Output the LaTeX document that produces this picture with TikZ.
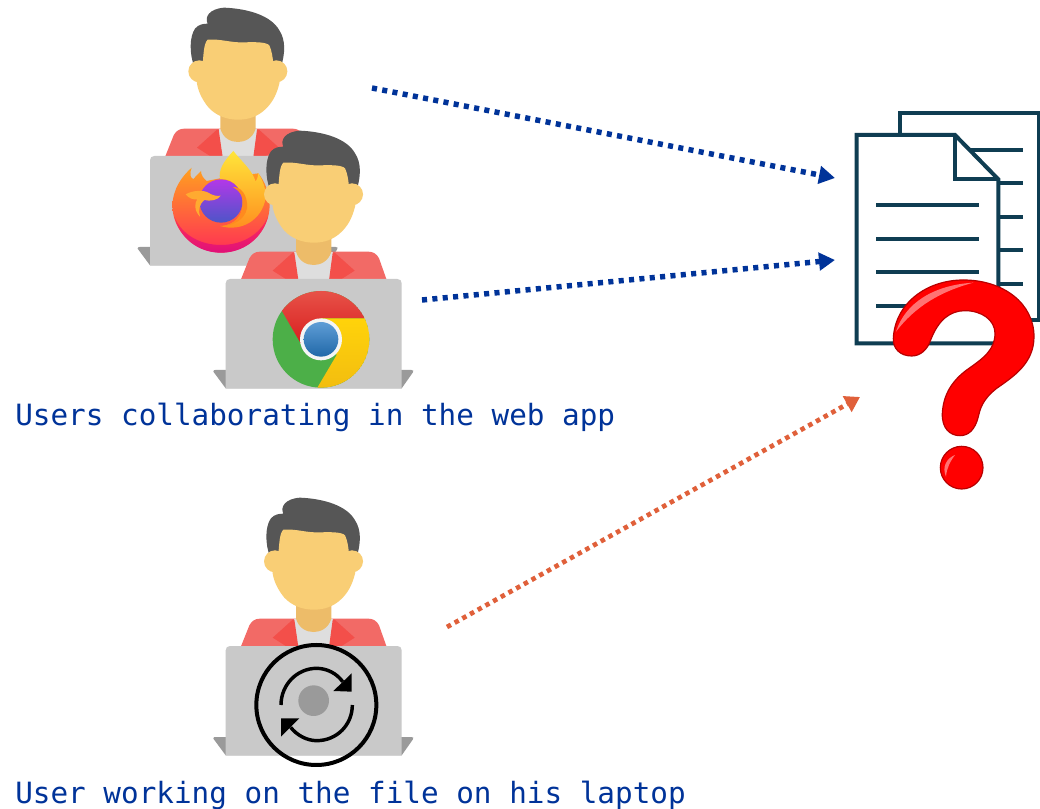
\documentclass[tikz,border=0pt]{standalone}
\usepackage{fontspec}
\setmonofont{DejaVu Sans Mono}
\usetikzlibrary{arrows.meta}
\definecolor{hair}{HTML}{565656}
\definecolor{skin}{HTML}{F9CE75}
\definecolor{neck}{HTML}{EDBC69}
\definecolor{jacket}{HTML}{F26A66}
\definecolor{lapel}{HTML}{F34F4A}
\definecolor{shirt}{HTML}{DEDEDE}
\definecolor{laptop}{HTML}{C9C9C9}
\definecolor{laptopbase}{HTML}{9A9A9A}
\definecolor{docline}{HTML}{0F3D52}
\definecolor{bluearrow}{HTML}{003399}
\definecolor{orangearrow}{HTML}{E0603A}
\definecolor{qmark}{HTML}{FF0000}
\definecolor{qedge}{HTML}{B80000}
\definecolor{ffyellow}{HTML}{FFE53A}
\definecolor{fforange}{HTML}{FF8A1E}
\definecolor{fftop}{HTML}{FFA020}
\definecolor{ffmid}{HTML}{FF5030}
\definecolor{ffred}{HTML}{FF2F55}
\definecolor{ffmagenta}{HTML}{E0107A}
\definecolor{ffpurpleA}{HTML}{B338E8}
\definecolor{ffpurpleB}{HTML}{4D55C8}
\definecolor{ffpale}{HTML}{FFAA30}
\definecolor{chredA}{HTML}{E8544A}
\definecolor{chredB}{HTML}{D81E1E}
\definecolor{chgreen}{HTML}{4CAF48}
\definecolor{chyellow}{HTML}{FFD30A}
\definecolor{chyellowB}{HTML}{F2BC10}
\definecolor{chblueA}{HTML}{5F9DD6}
\definecolor{chblueB}{HTML}{2068A8}
\tikzset{
  caption/.style={font=\ttfamily\fontsize{21.98pt}{26pt}\selectfont, text=bluearrow, anchor=base west, inner sep=0pt},
  bluedots/.style={draw=bluearrow, line width=4.1pt, dash pattern=on 3.8pt off 4pt, -{Triangle[length=12pt,width=13pt]}},
  orangedots/.style={draw=orangearrow, line width=3.5pt, dash pattern=on 3.4pt off 3.2pt, -{Triangle[length=11pt,width=13pt]}},
  docstroke/.style={draw=docline, line width=3pt},
  person/.pic={
    \begin{scope}[scale=1/3, shift={(-341,-467)}]
      \fill[hair] (250,70) .. controls (240,50) and (255,25) .. (300,22)
        .. controls (370,25) and (440,45) .. (465,90)
        .. controls (485,120) and (482,160) .. (470,200)
        -- (210,200) .. controls (195,160) and (195,110) .. (212,85)
        .. controls (222,72) and (238,70) .. (250,70) -- cycle;
      \fill[jacket] (122,470) -- (148,405) .. controls (155,392) and (165,385) .. (180,385)
        -- (505,385) .. controls (520,385) and (530,392) .. (537,405) -- (560,470) -- cycle;
      \fill[shirt] (283,385) -- (398,385) -- (398,470) -- (283,470) -- cycle;
      \fill[lapel] (278,388) -- (218,442) -- (262,470) -- (295,470) -- (283,388) -- cycle;
      \fill[lapel] (404,388) -- (464,442) -- (420,470) -- (387,470) -- (398,388) -- cycle;
      \fill[neck] (288,330) -- (394,330) -- (394,385) .. controls (385,415) and (360,425) .. (341,425)
        .. controls (320,425) and (297,415) .. (288,385) -- cycle;
      \fill[skin] (225,213) circle (33);
      \fill[skin] (456,213) circle (33);
      \fill[skin] (250,118) .. controls (290,115) and (320,128) .. (360,126)
        .. controls (395,125) and (425,125) .. (435,135)
        .. controls (442,150) and (445,170) .. (447,190)
        .. controls (460,205) and (470,225) .. (465,250)
        .. controls (455,290) and (440,310) .. (425,325)
        .. controls (400,350) and (370,358) .. (341,358)
        .. controls (305,358) and (275,345) .. (253,322)
        .. controls (235,300) and (222,275) .. (218,250)
        .. controls (214,225) and (222,205) .. (235,190)
        .. controls (238,160) and (238,130) .. (250,118) -- cycle;
      \fill[laptopbase] (40,745) .. controls (40,741) and (42,740) .. (46,740) -- (634,740)
        .. controls (640,740) and (642,743) .. (638,748) -- (605,795) -- (77,795) -- cycle;
      \fill[laptop] (77,795) -- (77,480) .. controls (77,472) and (82,467) .. (90,467)
        -- (592,467) .. controls (600,467) and (605,472) .. (605,480) -- (605,795) -- cycle;
    \end{scope}
  }
}
\begin{document}
\begin{tikzpicture}[x=0.75pt,y=-0.75pt]
\useasboundingbox (0,0) rectangle (1040,809);
\fill[white] (0,0) rectangle (1040,809);

% ---- upper left user
\pic at (238,156) {person};

% Firefox logo
\begin{scope}[shift={(165,145)}, scale=1/3]
  % body
  \shade[top color=fftop, middle color=ffmid, bottom color=ffred]
     (22,180) .. controls (25,130) and (50,95) .. (80,68)
     .. controls (72,90) and (78,100) .. (85,102)
     -- (108,78) .. controls (108,90) and (115,100) .. (125,108)
     -- (165,100) -- (280,85)
     .. controls (300,110) and (314,145) .. (314,180)
     .. controls (314,258) and (248,323) .. (168,323)
     .. controls (88,323) and (22,258) .. (22,180) -- cycle;
  % magenta rim
  \shade[top color=ffred, bottom color=ffmagenta]
     (28,215) .. controls (45,280) and (100,323) .. (168,323)
     .. controls (236,323) and (292,280) .. (309,215)
     .. controls (285,270) and (230,300) .. (168,300)
     .. controls (106,300) and (50,270) .. (28,215) -- cycle;
  % globe
  \shade[top color=ffpurpleA, bottom color=ffpurpleB] (168,168) circle (65);
  % flame
  \shade[top color=ffyellow, bottom color=fforange]
     (205,18) .. controls (175,50) and (160,75) .. (165,102)
     .. controls (210,100) and (240,140) .. (232,190)
     .. controls (225,225) and (195,243) .. (165,243)
     .. controls (230,262) and (290,225) .. (302,160)
     .. controls (304,130) and (292,105) .. (280,85)
     .. controls (278,100) and (275,105) .. (272,110)
     .. controls (262,75) and (230,50) .. (205,18) -- cycle;
  \fill[fforange] (203,127) .. controls (225,122) and (250,150) .. (246,190)
     .. controls (240,225) and (200,245) .. (165,243)
     .. controls (195,243) and (225,225) .. (232,190)
     .. controls (238,160) and (225,135) .. (203,127) -- cycle;
  % fox
  \fill[ffpale] (62,148) .. controls (85,135) and (115,135) .. (130,143)
     .. controls (140,150) and (155,155) .. (167,152)
     .. controls (160,165) and (135,170) .. (118,165)
     .. controls (105,175) and (98,195) .. (105,215)
     .. controls (85,195) and (90,170) .. (97,163)
     .. controls (85,165) and (72,160) .. (62,148) -- cycle;
\end{scope}

% ---- middle user
\pic at (313.7,279) {person};

% Chrome logo
\begin{scope}[shift={(265,285)}, scale=1/3]
  \begin{scope}
    \clip (168,163) circle (145);
    \fill[chgreen] (168,163) circle (145);
    \shade[top color=chredA, bottom color=chredB]
      (110,180) -- (20,25) -- (20,10) -- (320,10) -- (320,100) -- (168,100) -- cycle;
    \shade[top color=chyellow, bottom color=chyellowB]
      (168,100) -- (320,100) -- (320,320) -- (150,320) -- (215,210) -- cycle;
  \end{scope}
  \fill[white!92!gray] (168,163) circle (63);
  \shade[top color=chblueA, bottom color=chblueB] (168,163) circle (52);
\end{scope}

% ---- bottom user
\pic at (313.7,646) {person};

% sync icon
\begin{scope}[shift={(200,490)}, scale=1/3]
  \fill[laptopbase] (341,632) circle (46);
  \draw[black, line width=3pt] (349,645) circle (180);
  \draw[black, line width=2.6pt] (243,645) .. controls (243,585) and (290,535) .. (350,535)
     .. controls (380,535) and (410,550) .. (428,575);
  \draw[black, line width=2.6pt] (457,645) .. controls (457,705) and (410,752) .. (350,752)
     .. controls (320,752) and (290,735) .. (272,712);
  \fill[black] (455,550) -- (455,605) -- (400,603) -- cycle;
  \fill[black] (243,685) -- (298,685) -- (243,740) -- cycle;
\end{scope}

% ---- documents and question mark
\begin{scope}[shift={(840,100)}, scale=1/3]
  \draw[docstroke] (180,105) -- (180,38) -- (598,38) -- (598,660) -- (475,660);
  \foreach \yy/\xx in {149/390,250/478,351/478,451/478,552/478}
    \draw[docstroke] (\xx,\yy) -- (548,\yy);
  \draw[docstroke, fill=white, line join=miter] (50,105) -- (345,105) -- (475,238) -- (475,730) -- (50,730) -- cycle;
  \draw[docstroke] (345,105) -- (345,238) -- (475,238);
  \foreach \yy in {316,416,517,618}
    \draw[docstroke] (108,\yy) -- (418,\yy);
  % question mark
  \filldraw[fill=qmark, draw=qedge, line width=0.9pt]
    (160,715) .. controls (165,610) and (260,540) .. (370,540)
    .. controls (490,540) and (582,610) .. (582,710)
    .. controls (582,790) and (520,830) .. (470,865)
    .. controls (425,900) and (420,930) .. (415,950)
    .. controls (405,990) and (385,1007) .. (360,1007)
    .. controls (330,1007) and (305,985) .. (307,940)
    .. controls (310,880) and (340,840) .. (380,810)
    .. controls (430,775) and (465,750) .. (465,700)
    .. controls (465,660) and (425,632) .. (375,632)
    .. controls (330,632) and (295,660) .. (272,720)
    .. controls (262,750) and (240,768) .. (215,768)
    .. controls (180,768) and (158,745) .. (160,715) -- cycle;
  \filldraw[fill=qmark, draw=qedge, line width=0.9pt] (365,1103) circle (64);
  \fill[qmark!55!white] (168,695) .. controls (195,610) and (280,555) .. (400,548)
    .. controls (300,575) and (225,620) .. (168,695) -- cycle;
  \fill[qmark!55!white] (318,1130) .. controls (305,1100) and (320,1075) .. (345,1065)
    .. controls (330,1085) and (320,1105) .. (318,1130) -- cycle;
\end{scope}

% ---- connectors
\coordinate (webA) at (372,88);
\coordinate (docA) at (835,178);
\coordinate (webB) at (422,300);
\coordinate (docB) at (835,260);
\coordinate (laptopC) at (447,627);
\coordinate (docC) at (860,397);
\draw[bluedots] (webA) -- (docA);
\draw[bluedots] (webB) -- (docB);
\draw[orangedots] (laptopC) -- (docC);

% ---- captions
\node[caption] (capweb) at (15,426) {Users collaborating in the web app};
\node[caption] (caplaptop) at (15,803) {User working on the file on his laptop};
\end{tikzpicture}
\end{document}
